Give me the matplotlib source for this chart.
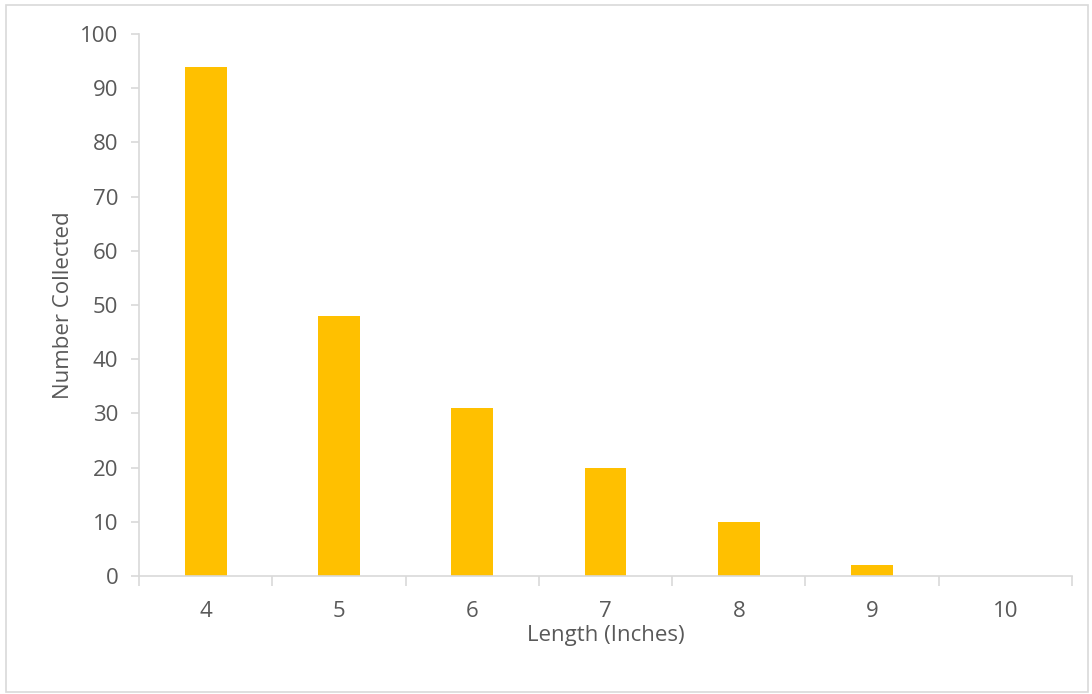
import matplotlib.pyplot as plt
from matplotlib.patches import Rectangle

lengths = ['4', '5', '6', '7', '8', '9', '10']
counts = [94, 48, 31, 20, 10, 2, 0]

plt.rcParams['font.family'] = ['Open Sans', 'DejaVu Sans']
text_color = '#595959'
axis_color = '#d9d9d9'

fig = plt.figure(figsize=(10.92, 6.94), dpi=100)
ax = fig.add_axes([139 / 1092, 1 - 576 / 694, (1072 - 139) / 1092, (576 - 34) / 694])

x = range(len(lengths))
ax.bar(x, counts, width=0.315, color='#ffc000')

ax.set_xlim(-0.5, len(lengths) - 0.5)
ax.set_ylim(0, 100)
ax.set_yticks(range(0, 101, 10))
ax.set_xticks(list(x))
ax.set_xticklabels(lengths)
ax.set_xticks([i - 0.5 for i in range(len(lengths) + 1)], minor=True)

for side in ['top', 'right']:
    ax.spines[side].set_visible(False)
for side in ['left', 'bottom']:
    ax.spines[side].set_color(axis_color)
    ax.spines[side].set_linewidth(1.2)

ax.tick_params(axis='y', colors=axis_color, labelcolor=text_color, labelsize=16,
               length=6, width=1.2, pad=9)
ax.tick_params(axis='x', which='major', length=0, labelcolor=text_color, labelsize=16, pad=18)
ax.tick_params(axis='x', which='minor', length=7, width=1.2, color=axis_color)

ax.set_xlabel('Length (Inches)', fontsize=16, color=text_color, labelpad=2)
ax.set_ylabel('Number Collected', fontsize=16, color=text_color, labelpad=4)

fig.patches.append(Rectangle((6 / 1092, 1 - 692 / 694), 1082 / 1092, 687 / 694,
                             transform=fig.transFigure, fill=False,
                             edgecolor=axis_color, linewidth=1.2))

fig.savefig('out.png', dpi=100)
